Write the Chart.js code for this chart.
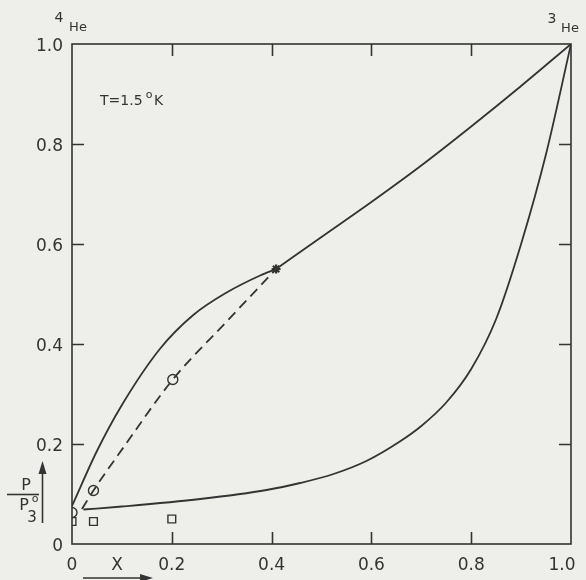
<!DOCTYPE html>
<html>
<head>
<meta charset="utf-8">
<script src="https://cdn.jsdelivr.net/npm/chart.js@4.4.1/dist/chart.umd.min.js"></script>
<style>
  html, body { margin: 0; padding: 0; background: #eeeeea; }
  #wrap { width: 586px; height: 580px; }
</style>
</head>
<body>
<div id="wrap"><canvas id="mixChart" width="586" height="580"></canvas></div>
<script>
// Vapour pressure of 3He-4He mixtures at T = 1.5 K, P / P3(0) against X

// upper solid curve, 4He side up to the marked point
const upperX = [0, 0.05, 0.1, 0.176, 0.243, 0.31, 0.377, 0.409];
const upperY = [0.076, 0.186, 0.278, 0.39, 0.458, 0.503, 0.537, 0.55];
// continuation of the upper curve to pure 3He
const upperX2 = [0.409, 0.5, 0.6, 0.7, 0.8, 0.9, 1.0];
const upperY2 = [0.55, 0.614, 0.684, 0.757, 0.835, 0.916, 1.0];
// lower solid curve
const lowerX = [0.023, 0.1, 0.257, 0.39, 0.457, 0.524, 0.59, 0.657, 0.7, 0.75, 0.8, 0.85, 0.9, 0.95, 1.0];
const lowerY = [0.069, 0.075, 0.09, 0.108, 0.122, 0.14, 0.166, 0.205, 0.236, 0.283, 0.35, 0.45, 0.6, 0.78, 1.0];
// dashed curve through the measured circles
const dashX = [0.02, 0.043, 0.103, 0.202, 0.31, 0.409];
const dashY = [0.07, 0.107, 0.193, 0.329, 0.445, 0.55];
// measured points
const circleX = [0, 0.043, 0.202];
const circleY = [0.063, 0.107, 0.329];
const squareX = [0, 0.043, 0.2];
const squareY = [0.045, 0.045, 0.05];
const starX = [0.409];
const starY = [0.55];

const xTicks = [0, 0.2, 0.4, 0.6, 0.8, 1.0];
const xTickLabels = ['0', '0.2', '0.4', '0.6', '0.8', '1.0'];
const yTicks = [0, 0.2, 0.4, 0.6, 0.8, 1.0];
const yTickLabels = ['0', '0.2', '0.4', '0.6', '0.8', '1.0'];

const ink = '#333333';
const font = "'DejaVu Sans', sans-serif";

function pts(xs, ys) {
    return xs.map((x, i) => ({ x: x, y: ys[i] }));
}

function txt(ctx, s, x, y, size, align) {
    ctx.font = size + 'px ' + font;
    ctx.textAlign = align || 'center';
    ctx.textBaseline = 'middle';
    ctx.fillText(s, x, y);
}

function arrowHead(ctx, x, y, dir) {
    // dir: 'up' or 'right'
    ctx.beginPath();
    if (dir === 'up') {
        ctx.moveTo(x, y);
        ctx.lineTo(x - 4, y + 13);
        ctx.lineTo(x + 4, y + 13);
    } else {
        ctx.moveTo(x, y);
        ctx.lineTo(x - 13, y - 4);
        ctx.lineTo(x - 13, y + 4);
    }
    ctx.closePath();
    ctx.fill();
}

// paper background
const paper = {
    id: 'paper',
    beforeDraw(chart) {
        const ctx = chart.ctx;
        ctx.save();
        ctx.fillStyle = '#eeeeea';
        ctx.fillRect(0, 0, chart.width, chart.height);
        ctx.restore();
    }
};

// box frame with inward ticks on all four sides, plus the lettering
const frame = {
    id: 'frame',
    afterDatasetsDraw(chart) {
        const ctx = chart.ctx;
        const a = chart.chartArea;
        const xs = chart.scales.x;
        const ys = chart.scales.y;
        const tl = 12;
        ctx.save();
        ctx.strokeStyle = ink;
        ctx.fillStyle = ink;
        ctx.lineWidth = 1.6;
        ctx.strokeRect(a.left, a.top, a.right - a.left, a.bottom - a.top);

        ctx.beginPath();
        xTicks.slice(1, -1).forEach(v => {
            const px = Math.round(xs.getPixelForValue(v)) + 0.5;
            ctx.moveTo(px, a.bottom); ctx.lineTo(px, a.bottom - tl);
            ctx.moveTo(px, a.top); ctx.lineTo(px, a.top + tl);
        });
        yTicks.slice(1, -1).forEach(v => {
            const py = Math.round(ys.getPixelForValue(v)) + 0.5;
            ctx.moveTo(a.left, py); ctx.lineTo(a.left + tl, py);
            ctx.moveTo(a.right, py); ctx.lineTo(a.right - tl, py);
        });
        ctx.stroke();

        // tick labels
        xTicks.forEach((v, i) => {
            let px = xs.getPixelForValue(v);
            if (px > chart.width - 24) px = chart.width - 24;
            txt(ctx, xTickLabels[i], px, a.bottom + 22, 17);
        });
        yTicks.forEach((v, i) => {
            txt(ctx, yTickLabels[i], a.left - 9, ys.getPixelForValue(v) + 3, 17, 'right');
        });

        // x axis name and arrow
        txt(ctx, 'X', 117, a.bottom + 22, 17);
        ctx.beginPath();
        ctx.moveTo(83, 578); ctx.lineTo(145, 578);
        ctx.stroke();
        arrowHead(ctx, 153, 578, 'right');

        // y axis name P / P3°, arrow upward
        txt(ctx, 'P', 26, 486, 16);
        ctx.beginPath();
        ctx.moveTo(7, 494.5); ctx.lineTo(39, 494.5);
        ctx.stroke();
        txt(ctx, 'P', 24, 506, 16);
        txt(ctx, 'o', 35, 499, 11);
        txt(ctx, '3', 32, 518, 15);
        ctx.beginPath();
        ctx.moveTo(42.5, 523); ctx.lineTo(42.5, 470);
        ctx.stroke();
        arrowHead(ctx, 42.5, 461, 'up');

        // pure component labels and temperature
        txt(ctx, '4', 59, 18, 14);
        txt(ctx, 'He', 78, 28, 13);
        txt(ctx, '3', 552, 19, 14);
        txt(ctx, 'He', 570, 29, 13);
        txt(ctx, 'T=1.5', 100, 101, 14, 'left');
        txt(ctx, 'o', 149, 95, 11);
        txt(ctx, 'K', 154, 101, 14, 'left');
        ctx.restore();
    }
};

const lineBase = {
    showLine: true,
    borderColor: ink,
    borderWidth: 1.8,
    pointRadius: 0,
    fill: false,
    cubicInterpolationMode: 'monotone'
};

new Chart(document.getElementById('mixChart'), {
    type: 'scatter',
    data: {
        datasets: [
            Object.assign({ label: 'upper', data: pts(upperX, upperY) }, lineBase),
            Object.assign({ label: 'upper2', data: pts(upperX2, upperY2) }, lineBase),
            Object.assign({ label: 'lower', data: pts(lowerX, lowerY) }, lineBase),
            Object.assign({ label: 'dashed', data: pts(dashX, dashY), borderDash: [10, 6] }, lineBase),
            {
                label: 'circles', data: pts(circleX, circleY),
                pointStyle: 'circle', pointRadius: 5, pointBorderWidth: 1.4,
                borderColor: ink, backgroundColor: '#eeeeea', clip: 0
            },
            {
                label: 'squares', data: pts(squareX, squareY),
                pointStyle: 'rect', pointRadius: 5.5, pointBorderWidth: 1.4,
                borderColor: ink, backgroundColor: '#eeeeea', clip: 0
            },
            {
                label: 'star', data: pts(starX, starY),
                pointStyle: 'star', pointRadius: 4.5, pointBorderWidth: 2.2,
                borderColor: ink, backgroundColor: ink
            }
        ]
    },
    options: {
        responsive: false,
        animation: false,
        layout: { padding: { left: 72, right: 15, top: 44, bottom: 36 } },
        plugins: {
            legend: { display: false },
            tooltip: { enabled: false }
        },
        scales: {
            x: { type: 'linear', min: 0, max: 1, display: false },
            y: { type: 'linear', min: 0, max: 1, display: false }
        }
    },
    plugins: [paper, frame]
});
</script>
</body>
</html>
